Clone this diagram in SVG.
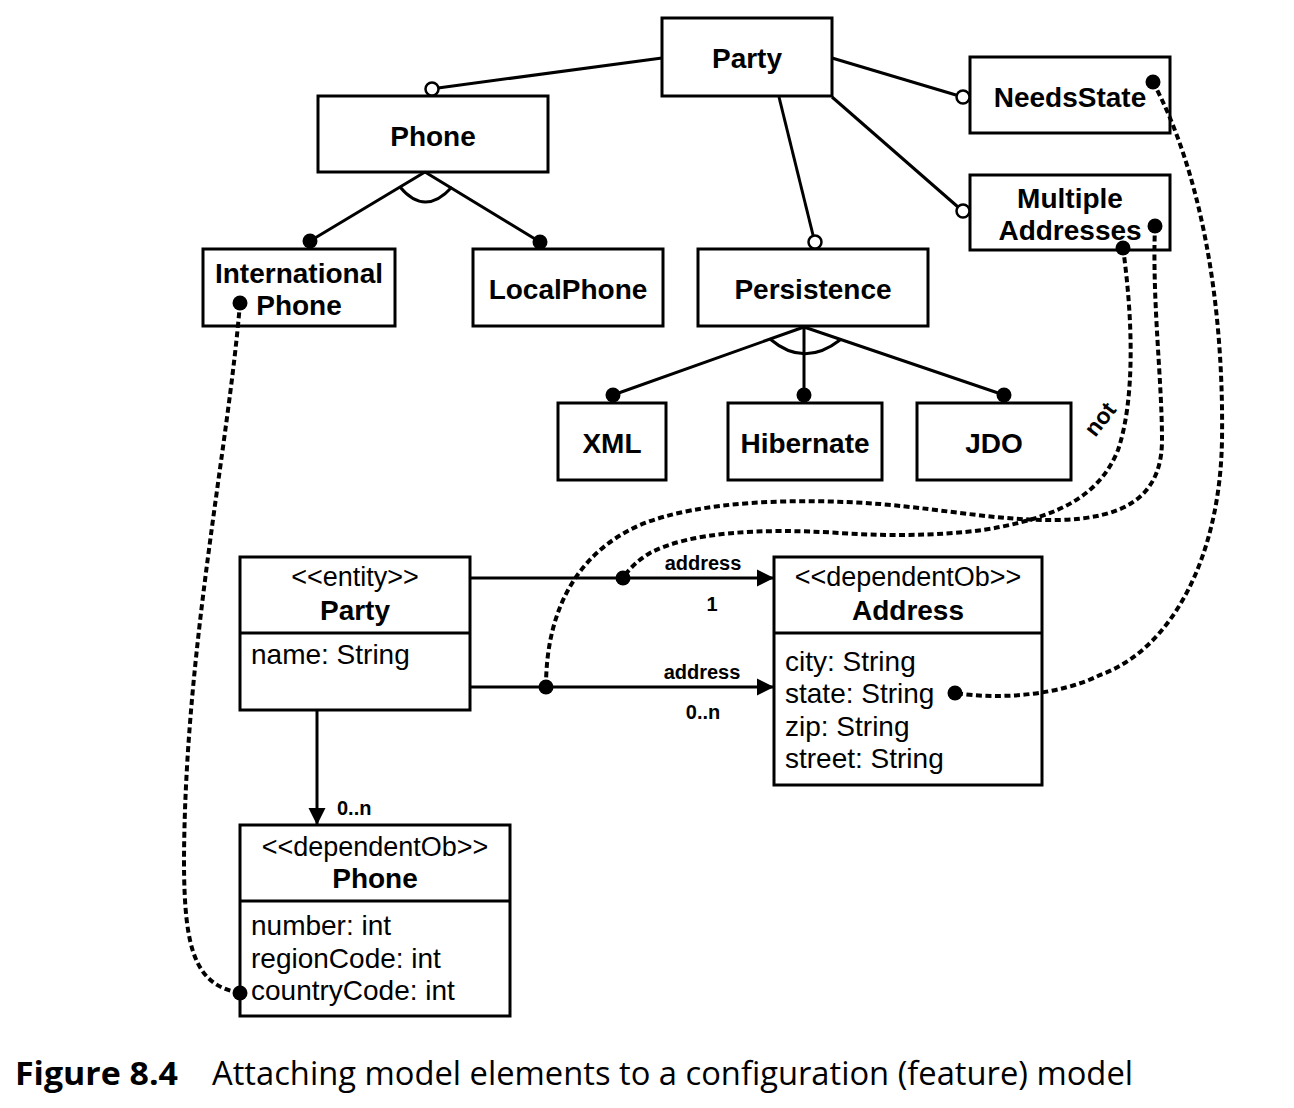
<svg xmlns="http://www.w3.org/2000/svg" width="1294" height="1108" viewBox="0 0 1294 1108">
<defs>
<style>
.box{fill:#fff;stroke:#000;stroke-width:3}
.ft{font-family:"Liberation Sans",Arial,sans-serif;font-weight:bold;font-size:28px;text-anchor:middle;fill:#000}
.ut{font-family:"Liberation Sans",Arial,sans-serif;font-size:28px;fill:#000}
.ub{font-family:"Liberation Sans",Arial,sans-serif;font-size:28px;font-weight:bold;text-anchor:middle;fill:#000}
.st{font-family:"Liberation Sans",Arial,sans-serif;font-size:27px;text-anchor:middle;fill:#000}
.lbl{font-family:"Liberation Sans",Arial,sans-serif;font-size:20px;font-weight:bold;fill:#000}
.ln{stroke:#000;stroke-width:3;fill:none}
.dot{fill:#000}
.oc{fill:#fff;stroke:#000;stroke-width:2.5}
.dash{stroke:#000;stroke-width:4;stroke-dasharray:6 3.5;fill:none}
.cap{font-family:"Open Sans","Noto Sans",sans-serif;font-size:32px;fill:#000}
</style>
<marker id="arr" markerUnits="userSpaceOnUse" markerWidth="18" markerHeight="18" refX="17" refY="9" orient="auto">
<path d="M0,0.5 L17,9 L0,17.5 z" fill="#000"/>
</marker>
</defs>
<rect width="1294" height="1108" fill="#fff"/>

<g id="f-party"><rect class="box" x="662" y="18" width="170" height="78"/><text class="ft" x="747" y="68">Party</text></g>
<g id="f-phone"><rect class="box" x="318" y="96" width="230" height="76"/><text class="ft" x="433" y="146">Phone</text></g>
<g id="f-needsstate"><rect class="box" x="970" y="57" width="200" height="76"/><text class="ft" x="1070" y="107">NeedsState</text></g>
<g id="f-multipleaddresses"><rect class="box" x="970" y="175" width="200" height="75"/><text class="ft" x="1070" y="208">Multiple</text><text class="ft" x="1070" y="240">Addresses</text></g>
<g id="f-intlphone"><rect class="box" x="203" y="249" width="192" height="77"/><text class="ft" x="299" y="283">International</text><text class="ft" x="299" y="315">Phone</text></g>
<g id="f-localphone"><rect class="box" x="473" y="249" width="190" height="77"/><text class="ft" x="568" y="299">LocalPhone</text></g>
<g id="f-persistence"><rect class="box" x="698" y="249" width="230" height="77"/><text class="ft" x="813" y="299">Persistence</text></g>
<g id="f-xml"><rect class="box" x="558" y="403" width="108" height="77"/><text class="ft" x="612" y="453">XML</text></g>
<g id="f-hibernate"><rect class="box" x="728" y="403" width="154" height="77"/><text class="ft" x="805" y="453">Hibernate</text></g>
<g id="f-jdo"><rect class="box" x="917" y="403" width="154" height="77"/><text class="ft" x="994" y="453">JDO</text></g>

<g id="c-party"><rect class="box" x="240" y="557" width="230" height="153"/><line class="ln" x1="240" y1="633" x2="470" y2="633"/>
<text class="st" x="355" y="586">&lt;&lt;entity&gt;&gt;</text><text class="ub" x="355" y="620">Party</text><text class="ut" x="251" y="664">name: String</text></g>
<g id="c-address"><rect class="box" x="774" y="557" width="268" height="228"/><line class="ln" x1="774" y1="633" x2="1042" y2="633"/>
<text class="st" x="908" y="586">&lt;&lt;dependentOb&gt;&gt;</text><text class="ub" x="908" y="620">Address</text>
<text class="ut" x="785" y="671">city: String</text><text class="ut" x="785" y="703">state: String</text><text class="ut" x="785" y="736">zip: String</text><text class="ut" x="785" y="768">street: String</text></g>
<g id="c-phone"><rect class="box" x="240" y="825" width="270" height="191"/><line class="ln" x1="240" y1="901" x2="510" y2="901"/>
<text class="st" x="375" y="856">&lt;&lt;dependentOb&gt;&gt;</text><text class="ub" x="375" y="888">Phone</text>
<text class="ut" x="251" y="935">number: int</text><text class="ut" x="251" y="968">regionCode: int</text><text class="ut" x="251" y="1000">countryCode: int</text></g>

<g id="connectors">
<path class="ln" d="M662,58 L438,88"/><circle class="oc" cx="432" cy="89" r="6.5"/>
<path class="ln" d="M832,58 L956,95"/><circle class="oc" cx="963" cy="97" r="6.5"/>
<path class="ln" d="M832,97 L958,207"/><circle class="oc" cx="963" cy="211" r="6.5"/>
<path class="ln" d="M779,97 L813,235"/><circle class="oc" cx="815" cy="242" r="6.5"/>
<path class="ln" d="M425,172 L310,241 M425,172 L540,242"/>
<path class="ln" d="M400,187 Q425,217 452,187"/>
<circle class="dot" cx="310" cy="241" r="7.5"/><circle class="dot" cx="540" cy="242" r="7.5"/>
<path class="ln" d="M804,327 L613,395 M804,327 L804,395 M804,327 L1004,395"/>
<path class="ln" d="M770,339 Q804,368 840,340"/>
<circle class="dot" cx="613" cy="395" r="7.5"/><circle class="dot" cx="804" cy="395" r="7.5"/><circle class="dot" cx="1004" cy="395" r="7.5"/>

<path class="ln" d="M470,578 L774,578" marker-end="url(#arr)"/>
<path class="ln" d="M470,687 L774,687" marker-end="url(#arr)"/>
<path class="ln" d="M317,710 L317,825" marker-end="url(#arr)"/>
<text class="lbl" x="703" y="570" text-anchor="middle">address</text>
<text class="lbl" x="712" y="611" text-anchor="middle">1</text>
<text class="lbl" x="702" y="679" text-anchor="middle">address</text>
<text class="lbl" x="703" y="719" text-anchor="middle">0..n</text>
<text class="lbl" x="337" y="815">0..n</text>

<path class="dash" d="M240,303 C228,450 185,650 184,860 C184,950 195,985 240,993"/>
<path class="dash" d="M1153,82 C1200,170 1224,300 1222,440 C1220,560 1170,650 1100,675 C1060,695 1000,700 955,693"/>
<path class="dash" d="M1155,226 C1152,300 1162,380 1162,440 C1162,500 1120,518 1060,520 C1000,521 950,510 880,504 C800,498 700,500 640,525 C570,556 546,620 546,687"/>
<path class="dash" d="M1123,248 C1133,320 1135,400 1118,450 C1100,495 1060,515 1000,527 C960,535 900,537 840,533 C760,528 690,532 650,553 C638,560 628,570 623,578"/>
<text class="lbl" x="1100" y="427" style="font-size:23px" text-anchor="middle" transform="rotate(-52 1100 419)">not</text>
<circle class="dot" cx="240" cy="303" r="7.5"/><circle class="dot" cx="240" cy="993" r="7.5"/>
<circle class="dot" cx="1153" cy="82" r="7.5"/><circle class="dot" cx="955" cy="693" r="7.5"/>
<circle class="dot" cx="1155" cy="226" r="7.5"/><circle class="dot" cx="546" cy="687" r="7.5"/>
<circle class="dot" cx="1123" cy="248" r="7.5"/><circle class="dot" cx="623" cy="578" r="7.5"/>
</g>

<text class="cap" x="15" y="1085" font-weight="bold" textLength="163" lengthAdjust="spacingAndGlyphs">Figure 8.4</text>
<text class="cap" x="212" y="1085" textLength="921" lengthAdjust="spacingAndGlyphs">Attaching model elements to a configuration (feature) model</text>
</svg>
